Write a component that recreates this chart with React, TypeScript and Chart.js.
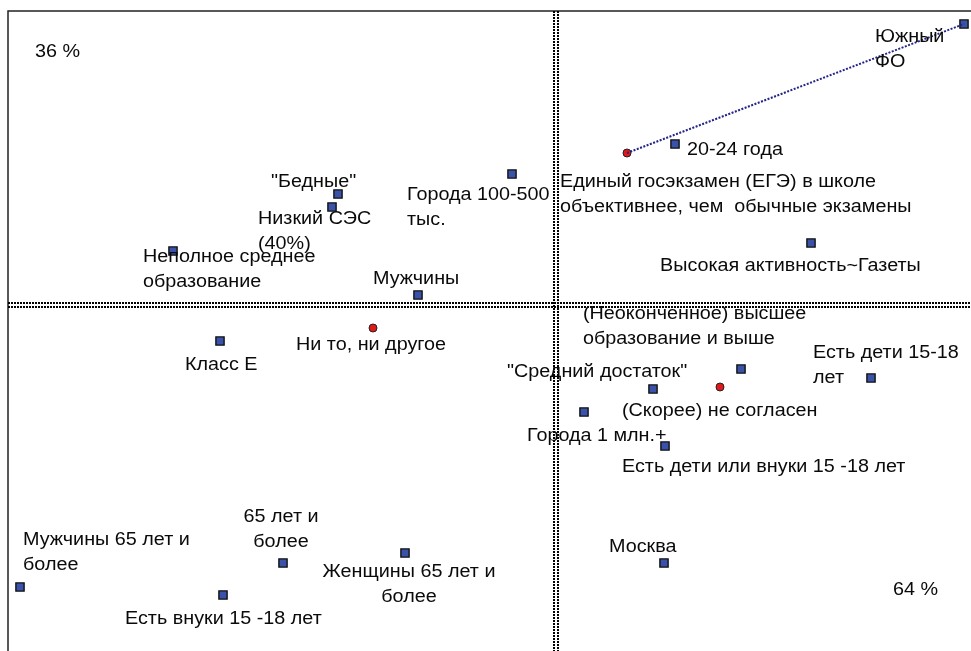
import React, { useEffect, useRef } from "react";
import { Chart, registerables } from "chart.js";

Chart.register(...registerables);

// Category points (blue squares)
const squareLabels: string[][] = [
  ["Южный", "ФО"],
  ["20-24 года"],
  ["\"Бедные\""],
  ["Низкий СЭС", "(40%)"],
  ["Города 100-500", "тыс."],
  ["Неполное среднее", "образование"],
  ["Мужчины"],
  ["Высокая активность~Газеты"],
  ["Класс Е"],
  ["(Неоконченное) высшее", "образование и выше"],
  ["\"Средний достаток\""],
  ["Есть дети 15-18", "лет"],
  ["Города 1 млн.+"],
  ["Есть дети или внуки 15 -18 лет"],
  ["Москва"],
  ["Мужчины 65 лет и", "более"],
  ["Есть внуки 15 -18 лет"],
  ["65 лет и", "более"],
  ["Женщины 65 лет и", "более"],
];
const squareX: number[] = [4.08, 1.19, -2.18, -2.24, -0.44, -3.83, -1.38, 2.55, -3.36, 1.85, 0.97, 3.15, 0.28, 1.09, 1.08, -5.36, -3.33, -2.73, -1.51];
const squareY: number[] = [2.81, 1.61, 1.11, 0.98, 1.31, 0.54, 0.10, 0.62, -0.36, -0.64, -0.84, -0.73, -1.07, -1.41, -2.58, -2.82, -2.90, -2.58, -2.48];

// Answer points (red ellipses)
const answerLabels: string[][] = [
  ["Единый госэкзамен (ЕГЭ) в школе", "объективнее, чем  обычные экзамены"],
  ["Ни то, ни другое"],
  ["(Скорее) не согласен"],
];
const answerX: number[] = [0.71, -1.83, 1.64];
const answerY: number[] = [1.52, -0.23, -0.82];

// Connecting line: from answer 0 to square 0
const linkFrom = 0;
const linkTo = 0;

// Inertia labels
const inertiaText: string[] = ["36 %", "64 %"];
const inertiaX: number[] = [-5.21, 3.37];
const inertiaY: number[] = [2.55, -2.83];

// Axis ranges
const xMin = -5.48;
const xMax = 4.15;
const yMin = -3.46;
const yMax = 2.94;

// label layout (pixel offsets from the point: dx, dy, align)
const squareLabelOffsets: [number, number, CanvasTextAlign][] = [
  [-89, 11, "left"],
  [12, 4, "left"],
  [-67, -14, "left"],
  [-74, 10, "left"],
  [-105, 19, "left"],
  [-30, 4, "left"],
  [-45, -18, "left"],
  [-151, 21, "left"],
  [-35, 22, "left"],
  [-158, -57, "left"],
  [-146, -19, "left"],
  [-58, -27, "left"],
  [-57, 22, "left"],
  [-43, 19, "left"],
  [-55, -18, "left"],
  [3, -49, "left"],
  [-98, 22, "left"],
  [-2, -48, "center"],
  [4, 17, "center"],
];
const answerLabelOffsets: [number, number, CanvasTextAlign][] = [
  [-67, 27, "left"],
  [-77, 15, "left"],
  [-98, 22, "left"],
];

const FONT = "17.5px 'Liberation Sans', Arial, sans-serif";
const TEXT_STRETCH = 1.13;
const TEXT_DY = 2;
const LINE_H = 25;
const W = 971;
const H = 651;

export default function App() {
  const ref = useRef<HTMLCanvasElement | null>(null);

  useEffect(() => {
    if (!ref.current) return;

    const framePlugin = {
      id: "framePlugin",
      beforeDatasetsDraw(chart: any) {
        const { ctx, chartArea, scales } = chart;
        const x0 = Math.round(scales.x.getPixelForValue(0));
        const y0 = Math.round(scales.y.getPixelForValue(0));
        ctx.save();
        ctx.strokeStyle = "#222";
        ctx.lineWidth = 1.5;
        ctx.beginPath();
        ctx.moveTo(chartArea.left, chartArea.bottom + 5);
        ctx.lineTo(chartArea.left, chartArea.top);
        ctx.lineTo(chartArea.right + 5, chartArea.top);
        ctx.stroke();
        ctx.strokeStyle = "#000";
        ctx.lineWidth = 2;
        ctx.setLineDash([2, 1]);
        for (const off of [-2, 2]) {
          ctx.beginPath();
          ctx.moveTo(x0 + off, chartArea.top);
          ctx.lineTo(x0 + off, chartArea.bottom);
          ctx.stroke();
          ctx.beginPath();
          ctx.moveTo(chartArea.left, y0 + off);
          ctx.lineTo(chartArea.right, y0 + off);
          ctx.stroke();
        }
        ctx.restore();
      },
    };

    const labelPlugin = {
      id: "labelPlugin",
      afterDatasetsDraw(chart: any) {
        const { ctx, scales } = chart;
        const sx = scales.x;
        const sy = scales.y;
        ctx.save();
        ctx.font = FONT;
        ctx.fillStyle = "#0a0a0a";
        ctx.textBaseline = "middle";
        const put = (t: string, x: number, y: number, align: CanvasTextAlign) => {
          ctx.save();
          ctx.translate(x, y + TEXT_DY);
          ctx.scale(TEXT_STRETCH, 1);
          ctx.textAlign = align;
          ctx.fillText(t, 0, 0);
          ctx.restore();
        };
        const draw = (lines: string[], px: number, py: number, off: [number, number, CanvasTextAlign]) => {
          lines.forEach((ln, i) => put(ln, px + off[0], py + off[1] + i * LINE_H, off[2]));
        };
        squareLabels.forEach((lines, i) => {
          draw(lines, sx.getPixelForValue(squareX[i]), sy.getPixelForValue(squareY[i]), squareLabelOffsets[i]);
        });
        answerLabels.forEach((lines, i) => {
          draw(lines, sx.getPixelForValue(answerX[i]), sy.getPixelForValue(answerY[i]), answerLabelOffsets[i]);
        });
        inertiaText.forEach((t, i) => {
          put(t, sx.getPixelForValue(inertiaX[i]), sy.getPixelForValue(inertiaY[i]), "left");
        });
        ctx.restore();
      },
    };

    const chart = new Chart(ref.current, {
      type: "scatter",
      data: {
        datasets: [
          {
            label: "link",
            data: [
              { x: answerX[linkFrom], y: answerY[linkFrom] },
              { x: squareX[linkTo], y: squareY[linkTo] },
            ],
            showLine: true,
            borderColor: "#24248a",
            borderWidth: 2,
            borderDash: [2, 1.5],
            pointRadius: 0,
            clip: false as any,
          },
          {
            label: "categories",
            data: squareX.map((x, i) => ({ x, y: squareY[i] })),
            pointStyle: "rect",
            pointRadius: 5.8,
            backgroundColor: "#3a52a8",
            borderColor: "#111",
            borderWidth: 1.4,
            clip: false as any,
          },
          {
            label: "answers",
            data: answerX.map((x, i) => ({ x, y: answerY[i] })),
            pointStyle: "circle",
            pointRadius: 4,
            backgroundColor: "#e01818",
            borderColor: "#222",
            borderWidth: 1,
            clip: false as any,
          },
        ],
      },
      options: {
        animation: false,
        responsive: false,
        layout: { autoPadding: false, padding: { left: 8, top: 11, right: 0, bottom: 0 } },
        plugins: {
          legend: { display: false },
          tooltip: { enabled: false },
          title: { display: false },
        },
        scales: {
          x: { type: "linear", min: xMin, max: xMax, display: false },
          y: { type: "linear", min: yMin, max: yMax, display: false },
        },
      },
      plugins: [framePlugin, labelPlugin],
    });

    return () => chart.destroy();
  }, []);

  return (
    <div style={{ position: "fixed", left: 0, top: 0, width: W, height: H, background: "#fff" }}>
      <canvas ref={ref} width={W} height={H} style={{ display: "block", width: W, height: H }} />
    </div>
  );
}
